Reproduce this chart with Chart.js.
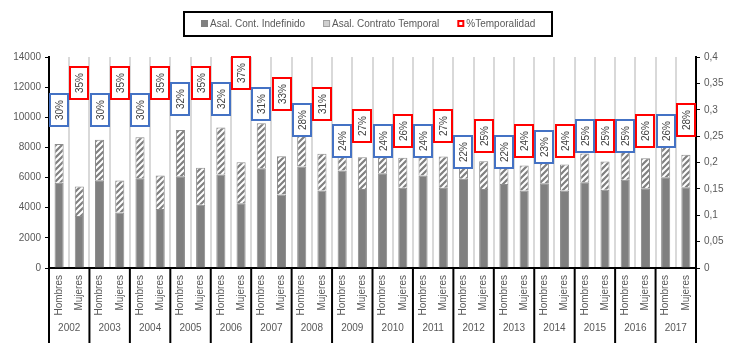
<!DOCTYPE html>
<html>
<head>
<meta charset="utf-8">
<script src="https://cdn.jsdelivr.net/npm/chart.js@4/dist/chart.umd.min.js"></script>
<style>
  html, body { margin: 0; padding: 0; background: #fff; }
</style>
</head>
<body>
<canvas id="Chart" width="737" height="345"></canvas>
<script>
"use strict";

// data
var years = [2002, 2003, 2004, 2005, 2006, 2007, 2008, 2009, 2010, 2011, 2012, 2013, 2014, 2015, 2016, 2017];
var sexes = ['Hombres', 'Mujeres'];
var indefinido = [5650, 3450, 5820, 3680, 5960, 3920, 6090, 4190, 6200, 4300, 6620, 4870, 6730, 5140, 6470, 5250,
                  6290, 5320, 6140, 5320, 5920, 5250, 5580, 5140, 5620, 5140, 5690, 5190, 5850, 5290, 6020, 5360];
var temporal = [2570, 1950, 2690, 2120, 2720, 2220, 3060, 2460, 3130, 2720, 2980, 2550, 2620, 2440, 2030, 2100,
                1980, 1990, 1930, 2080, 1670, 1840, 1580, 1660, 1680, 1730, 1900, 1880, 1950, 2000, 2120, 2150];
var temporalidad = [0.30, 0.35, 0.30, 0.35, 0.30, 0.35, 0.32, 0.35, 0.32, 0.37, 0.31, 0.33, 0.28, 0.31, 0.24, 0.27,
                    0.24, 0.26, 0.24, 0.27, 0.22, 0.25, 0.22, 0.24, 0.23, 0.24, 0.25, 0.25, 0.25, 0.26, 0.26, 0.28];
var leftTicks = [0, 14000, 2000];
var rightTicks = [0, 0.4, 0.05];

var labels = [];
years.forEach(function () {
  sexes.forEach(function (s) { labels.push(s); });
});

var FONT = '"Liberation Sans", Arial, sans-serif';
var TXT = '#595959';
Chart.defaults.font.family = FONT;
Chart.defaults.font.size = 10;
Chart.defaults.color = TXT;

function hatch() {
  var c = document.createElement('canvas');
  c.width = c.height = 6;
  var g = c.getContext('2d');
  g.fillStyle = '#808080';
  g.fillRect(0, 0, 6, 6);
  g.strokeStyle = '#fff';
  g.lineWidth = 2;
  g.beginPath();
  g.moveTo(0, 6); g.lineTo(6, 0);
  g.moveTo(-1, 1); g.lineTo(1, -1);
  g.moveTo(5, 7); g.lineTo(7, 5);
  g.stroke();
  return g.createPattern(c, 'repeat');
}
var hatchFill = hatch();

// % boxes over each point of the line dataset
var pctBoxes = {
  id: 'pctBoxes',
  afterDatasetsDraw: function (chart) {
    var ctx = chart.ctx;
    var meta = chart.getDatasetMeta(2);
    ctx.save();
    meta.data.forEach(function (pt, i) {
      var x = Math.round(pt.x), y = Math.round(pt.y);
      ctx.fillStyle = '#fff';
      ctx.fillRect(x - 9, y - 16, 18, 32);
      ctx.strokeStyle = i % 2 === 0 ? '#4472C4' : '#FF0000';
      ctx.lineWidth = 2;
      ctx.strokeRect(x - 9, y - 16, 18, 32);
      ctx.save();
      ctx.translate(x, y);
      ctx.rotate(-Math.PI / 2);
      ctx.fillStyle = '#404040';
      ctx.font = '10px ' + FONT;
      ctx.textAlign = 'center';
      ctx.textBaseline = 'middle';
      ctx.fillText(Math.round(temporalidad[i] * 100) + '%', 0, 1);
      ctx.restore();
    });
    ctx.restore();
  }
};

// year row + separators under the x axis
var yearRow = {
  id: 'yearRow',
  afterDraw: function (chart) {
    var ctx = chart.ctx, xs = chart.scales.x;
    var w = xs.getPixelForValue(1) - xs.getPixelForValue(0);
    ctx.save();
    ctx.strokeStyle = '#000';
    ctx.lineWidth = 2;
    ctx.fillStyle = TXT;
    ctx.font = '10px ' + FONT;
    ctx.textAlign = 'center';
    ctx.textBaseline = 'middle';
    years.forEach(function (yr, k) {
      var l = xs.getPixelForValue(2 * k) - w / 2;
      var r = l + 2 * w;
      ctx.beginPath();
      ctx.moveTo(l, xs.top); ctx.lineTo(l, 343);
      ctx.stroke();
      if (k === years.length - 1) {
        ctx.beginPath();
        ctx.moveTo(r, xs.top); ctx.lineTo(r, 343);
        ctx.stroke();
      }
      ctx.fillText(String(yr), (l + r) / 2, 328);
    });
    ctx.restore();
  }
};

// legend with border
var boxLegend = {
  id: 'boxLegend',
  afterDraw: function (chart) {
    var ctx = chart.ctx;
    var items = chart.data.datasets.map(function (d) { return d.label; });
    ctx.save();
    ctx.font = '10px ' + FONT;
    var gap = 18, mk = 7, tg = 2;
    var total = 0;
    items.forEach(function (t, i) {
      total += mk + tg + ctx.measureText(t).width + (i < items.length - 1 ? gap : 0);
    });
    var x = Math.round(chart.width / 2 - total / 2), y = 24;
    ctx.strokeStyle = '#000';
    ctx.lineWidth = 2;
    ctx.strokeRect(184, 12, 368, 24);
    ctx.textBaseline = 'middle';
    items.forEach(function (t, i) {
      if (i === 0) {
        ctx.fillStyle = '#808080';
        ctx.fillRect(x, y - 4, mk, mk);
      } else if (i === 1) {
        ctx.fillStyle = '#d0d0d0';
        ctx.fillRect(x, y - 4, mk, mk);
        ctx.strokeStyle = '#a0a0a0';
        ctx.lineWidth = 1;
        ctx.strokeRect(x + 0.5, y - 3.5, mk - 1, mk - 1);
      } else {
        ctx.fillStyle = '#fff';
        ctx.fillRect(x, y - 4, mk, mk);
        ctx.strokeStyle = '#FF0000';
        ctx.lineWidth = 2;
        ctx.strokeRect(x + 1, y - 3, mk - 2, mk - 2);
      }
      ctx.fillStyle = TXT;
      ctx.fillText(t, x + mk + tg, y);
      x += mk + tg + ctx.measureText(t).width + gap;
    });
    ctx.restore();
  }
};

var ctx = document.getElementById('Chart').getContext('2d');
var chart = new Chart(ctx, {
  type: 'bar',
  data: {
    labels: labels,
    datasets: [{
      label: 'Asal. Cont. Indefinido',
      data: indefinido,
      backgroundColor: '#808080',
      borderColor: '#8c8c8c',
      borderWidth: 1,
      stack: 'a',
      yAxisID: 'y',
      barPercentage: 0.45,
      categoryPercentage: 1
    }, {
      label: 'Asal. Contrato Temporal',
      data: temporal,
      backgroundColor: hatchFill,
      borderColor: '#8c8c8c',
      borderWidth: 1,
      stack: 'a',
      yAxisID: 'y',
      barPercentage: 0.45,
      categoryPercentage: 1
    }, {
      type: 'line',
      label: '%Temporalidad',
      data: temporalidad,
      yAxisID: 'y1',
      showLine: false,
      pointRadius: 0,
      borderColor: '#FF0000',
      backgroundColor: '#fff'
    }]
  },
  options: {
    responsive: false,
    animation: false,
    layout: { padding: { top: 57, left: 0, right: 0, bottom: 0 } },
    plugins: {
      legend: { display: false },
      tooltip: { enabled: false }
    },
    scales: {
      x: {
        stacked: true,
        grid: { color: '#d9d9d9', lineWidth: 2, offset: true, drawTicks: false },
        border: { color: '#000', width: 2 },
        ticks: { minRotation: 90, maxRotation: 90, autoSkip: false, padding: 7 },
        afterFit: function (s) { s.height = 77; }
      },
      y: {
        stacked: true,
        position: 'left',
        min: leftTicks[0],
        max: leftTicks[1],
        ticks: {
          stepSize: leftTicks[2],
          padding: 4,
          callback: function (v) { return String(v); }
        },
        grid: { drawOnChartArea: false, tickLength: 4, color: '#000', tickColor: '#000' },
        border: { color: '#000', width: 2 },
        afterFit: function (s) { s.width = 49; }
      },
      y1: {
        position: 'right',
        min: rightTicks[0],
        max: rightTicks[1],
        ticks: {
          stepSize: rightTicks[2],
          padding: 4,
          callback: function (v) { return String(+v.toFixed(2)).replace('.', ','); }
        },
        grid: { drawOnChartArea: false, tickLength: 4, color: '#000', tickColor: '#000' },
        border: { color: '#000', width: 2 },
        afterFit: function (s) { s.width = 41; }
      }
    }
  },
  plugins: [pctBoxes, yearRow, boxLegend]
});
</script>
</body>
</html>
